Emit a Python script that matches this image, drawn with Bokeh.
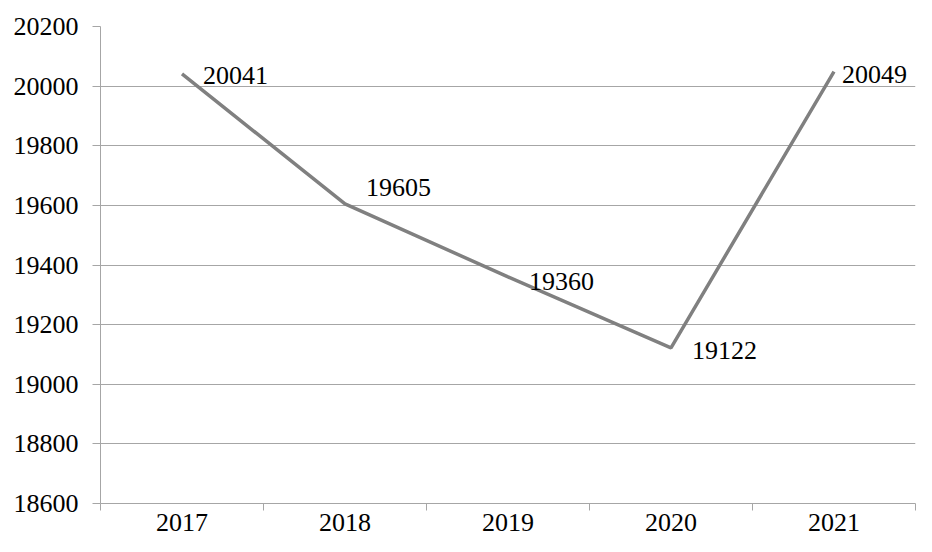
from bokeh.plotting import figure
from bokeh.models import ColumnDataSource, Range1d, FixedTicker, LinearAxis, LabelSet
from bokeh.embed import file_html
from bokeh.resources import INLINE
import numpy as np

years = ["2017", "2018", "2019", "2020", "2021"]
values = [20041, 19605, 19360, 19122, 20049]
y_ticks = [18600, 18800, 19000, 19200, 19400, 19600, 19800, 20000, 20200]

# per-label nudges in pixels (style only): dx to the right, dy positive = up
label_dx = [21, 21, 21, 21, 8]
label_dy = [-2, 16, -5, -3, -3]

FONT = "Liberation Serif"
GREY_LINE = "#808080"
GRID = "#a6a6a6"

xs = np.arange(len(years)) + 0.5
src = ColumnDataSource(dict(x=xs, y=values, t=[str(v) for v in values],
                            dx=label_dx, dy=label_dy))

p = figure(width=916, height=536, output_backend="svg", toolbar_location=None,
           x_range=Range1d(0, len(years)), y_range=Range1d(y_ticks[0], y_ticks[-1]),
           x_axis_location=None, y_axis_location=None,
           min_border_left=100, min_border_right=1, min_border_top=26, min_border_bottom=33)
p.outline_line_color = None
p.background_fill_color = "white"
p.border_fill_color = "white"

# y axis
ya = LinearAxis(ticker=FixedTicker(ticks=y_ticks))
ya.axis_line_color = GRID
ya.major_tick_line_color = GRID
ya.major_tick_out = 8
ya.major_tick_in = 0
ya.minor_tick_line_color = None
ya.major_label_standoff = 14
ya.major_label_text_font = FONT
ya.major_label_text_font_size = "26px"
ya.major_label_text_color = "black"
p.add_layout(ya, "left")

# x axis: labels at category centers, ticks at category boundaries
xa = LinearAxis(ticker=FixedTicker(ticks=list(xs), minor_ticks=list(range(len(years) + 1))))
xa.major_label_overrides = {float(x): y for x, y in zip(xs, years)}
xa.axis_line_color = GRID
xa.major_tick_line_color = None
xa.major_tick_out = 0
xa.major_tick_in = 0
xa.minor_tick_line_color = GRID
xa.minor_tick_out = 7
xa.minor_tick_in = 0
xa.major_label_standoff = 3
xa.major_label_text_font = FONT
xa.major_label_text_font_size = "26px"
xa.major_label_text_color = "black"
p.add_layout(xa, "below")

p.xgrid.visible = False
p.ygrid.ticker = FixedTicker(ticks=y_ticks)
p.ygrid.grid_line_color = GRID
p.ygrid.grid_line_width = 1.2

p.line("x", "y", source=src, line_color=GREY_LINE, line_width=3.5)
labels = LabelSet(x="x", y="y", text="t", source=src, x_offset="dx", y_offset="dy",
                  text_baseline="middle", text_align="left", level="overlay",
                  text_font=FONT, text_font_size="26px", text_color="black")
p.add_layout(labels)

open("out.html", "w").write(file_html(p, INLINE))
